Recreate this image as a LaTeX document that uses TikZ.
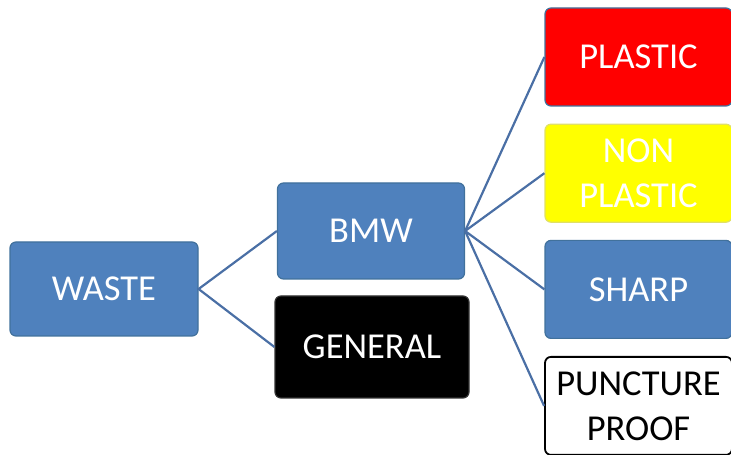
\documentclass[tikz,border=0pt]{standalone}
\usepackage{fontspec}
\setmainfont{Carlito}
\usetikzlibrary{positioning}
\definecolor{WasteBlue}{HTML}{4F81BD}
\definecolor{WasteEdge}{HTML}{41719C}
\definecolor{WasteLink}{HTML}{4A6FA5}
\definecolor{BinRed}{HTML}{FF0000}
\definecolor{BinYellow}{HTML}{FFFF00}

\begin{document}
\begin{tikzpicture}[x=1pt,y=1pt,
    node distance=17pt,
    bin/.style={draw=WasteEdge,line width=1.2pt,rounded corners=6pt,
      fill=WasteBlue,text=white,minimum width=187pt,minimum height=96pt,
      align=center,inner sep=2pt,font=\fontsize{36.5}{45}\selectfont},
    sidebin/.style={bin,minimum width=187pt,minimum height=98pt},
    link/.style={draw=WasteLink,line width=2.2pt}
  ]
  \useasboundingbox (0,0) rectangle (731,455);
  % tree of waste categories
  \node[bin,minimum width=188pt,minimum height=94pt] (waste) at (104,166) {WASTE};
  \node[bin] (bmw) at (371,224) {BMW};
  \node[bin,fill=black,draw=black!80,minimum width=194pt,minimum height=102pt]
    (general) at (372,108) {GENERAL};
  % colour-coded bins
  \node[sidebin,fill=BinRed] (plastic) at (638.5,398) {PLASTIC};
  \node[sidebin,fill=BinYellow,draw=BinYellow!80!black!60,below=of plastic]
    (nonplastic) {NON\\PLASTIC};
  \node[sidebin,below=of nonplastic] (sharp) {SHARP};
  \node[sidebin,fill=white,draw=black,line width=1.8pt,text=black,below=of sharp]
    (puncture) {PUNCTURE\\PROOF};
  \draw[link] (bmw.west) -- (waste.east) -- (general.west);
  \foreach \b in {plastic,nonplastic,sharp,puncture}
    \draw[link] (bmw.east) -- (\b.west);
\end{tikzpicture}
\end{document}
